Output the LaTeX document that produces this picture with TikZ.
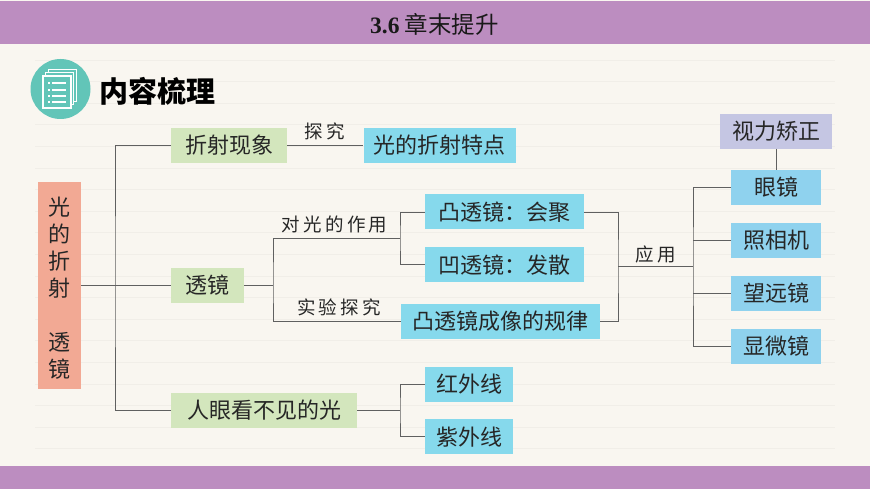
\documentclass[tikz,border=0pt]{standalone}
\usepackage{fontspec}
\setmainfont{Noto Sans CJK SC}
\newfontfamily\labelfont[LetterSpace=18]{Noto Sans CJK SC}
\newfontfamily\titlefont{Liberation Serif}
\usetikzlibrary{positioning}
\definecolor{bandpurple}{HTML}{BC8DC0}
\definecolor{paper}{HTML}{F9F6F0}
\definecolor{paperline}{HTML}{F1EEE8}
\definecolor{rootred}{HTML}{F2A994}
\definecolor{stemgreen}{HTML}{D3E6BD}
\definecolor{leafblue}{HTML}{8FD2EE}
\definecolor{lensblue}{HTML}{86D9EC}
\definecolor{notepurple}{HTML}{C5C6E3}
\definecolor{icongreen}{HTML}{62C5B8}
\definecolor{linkgrey}{HTML}{606060}
\tikzstyle{basebox} = [rectangle, inner sep=0pt, minimum height=35pt, text=black!85, font=\fontsize{22}{27}\selectfont, align=center]
\tikzstyle{rootbox} = [basebox, fill=rootred, minimum width=43pt, minimum height=207pt]
\tikzstyle{stembox} = [basebox, fill=stemgreen]
\tikzstyle{lensbox} = [basebox, fill=lensblue]
\tikzstyle{toolbox} = [basebox, fill=leafblue, minimum width=90pt]
\tikzstyle{notebox} = [basebox, fill=notepurple, minimum width=112pt]
\tikzstyle{linklabel} = [inner sep=0pt, text=black!85, font=\labelfont\fontsize{18.5}{20}\selectfont]
\tikzstyle{link} = [draw=linkgrey, line width=0.9pt]
\tikzstyle{page} = [draw=white, line width=1pt, fill=icongreen]
\begin{document}
\begin{tikzpicture}[x=1pt, y=-1pt]
    \useasboundingbox (0,0) rectangle (870,489);
    % Paper and bands
    \fill[paper] (0,0) rectangle (870,489);
    \foreach \k in {0,...,18} {
        \draw[paperline, line width=0.8pt] (35,60+21.6*\k) -- (835,60+21.6*\k);
    }
    \fill[bandpurple] (0,1) rectangle (870,44);
    \fill[bandpurple] (0,466) rectangle (870,489);
    \node[inner sep=0pt, text=black!90, font=\fontsize{23.5}{25}\selectfont] (title) at (434.5,24) {{\titlefont\bfseries 3.6} 章末提升};

    % Heading
    \node[circle, fill=icongreen, minimum size=60pt, inner sep=0pt] (icon) at (60.5,89) {};
    \draw[page] (48,69.5) rectangle (76,102);
    \draw[page] (45.5,72.5) rectangle (73.5,105);
    \draw[page, line width=1.2pt] (43,76) rectangle (71,108);
    \foreach \y in {83,90,96,102} {
        \draw[white, line width=1.1pt] (48,\y) -- (50,\y) (52,\y) -- (66,\y);
    }
    \node[inner sep=0pt, anchor=west, font=\fontsize{29}{30}\selectfont\bfseries] (heading) at (99,91) {内容梳理};

    % Root and stems
    \node[rootbox] (root) at (59.5,285.5) {\rule{0pt}{24pt}光\\的\\折\\射\\[27pt]透\\镜};
    \node[stembox, minimum width=116pt, anchor=west] (refraction) at (171,145.5) {折射现象};
    \node[stembox, minimum width=73pt, anchor=west] (lens) at (171,285.5) {透镜};
    \node[stembox, minimum width=186pt, anchor=west] (invisible) at (171,410.5) {人眼看不见的光};
    \node[lensbox, minimum width=152pt, right=76pt of refraction] (features) {光的折射特点};

    % Lens branch
    \node[lensbox, minimum width=159pt, anchor=west] (convex) at (425,212) {凸透镜：会聚};
    \node[lensbox, minimum width=159pt, below=17.5pt of convex] (concave) {凹透镜：发散};
    \node[lensbox, minimum width=199pt, anchor=west] (imaging) at (401,321) {凸透镜成像的规律};
    \node[lensbox, minimum width=88pt, anchor=west] (infrared) at (425,384) {红外线};
    \node[lensbox, minimum width=88pt, below=17.5pt of infrared] (ultraviolet) {紫外线};

    % Applications
    \node[toolbox, anchor=west] (glasses) at (731,187.5) {眼镜};
    \node[toolbox, below=17.6pt of glasses] (camera) {照相机};
    \node[toolbox, below=17.6pt of camera] (telescope) {望远镜};
    \node[toolbox, below=17.6pt of telescope] (microscope) {显微镜};
    \node[notebox, above=21pt of glasses] (vision) {视力矫正};

    % Link labels
    \node[linklabel] (explore) at (325,131) {探究};
    \node[linklabel] (effect) at (334.5,224) {对光的作用};
    \node[linklabel] (experiment) at (339,307) {实验探究};
    \node[linklabel] (usage) at (656,254) {应用};

    % Junctions
    \coordinate (rootbus) at (115,285.5);
    \coordinate (lensbus) at (273,285.5);
    \coordinate (effectbus) at (400,238);
    \coordinate (invisbus) at (400,410.5);
    \coordinate (usebus) at (618,266);
    \coordinate (toolbus) at (693,266);

    % Links from root
    \draw[link] (root) -- (lens);
    \draw[link] (refraction.west) -| (rootbus) |- (invisible.west);
    \draw[link] (refraction) -- (features);

    % Links from lens
    \draw[link] (lens) -- (lensbus);
    \draw[link] (effectbus) -| (lensbus) |- (imaging.west);
    \draw[link] (convex.west) -| (effectbus) |- (concave.west);
    \draw[link] (convex.east) -| (usebus) |- (imaging.east);
    \draw[link] (usebus) -- (toolbus);

    % Links to tools
    \draw[link] (glasses.west) -| (toolbus) |- (microscope.west);
    \draw[link] (camera.west) -- (camera.west -| toolbus);
    \draw[link] (telescope.west) -- (telescope.west -| toolbus);
    \draw[link] (vision.south -| glasses.north) -- (glasses.north);

    % Links from invisible light
    \draw[link] (invisible) -- (invisbus);
    \draw[link] (infrared.west) -| (invisbus) |- (ultraviolet.west);
\end{tikzpicture}
\end{document}
